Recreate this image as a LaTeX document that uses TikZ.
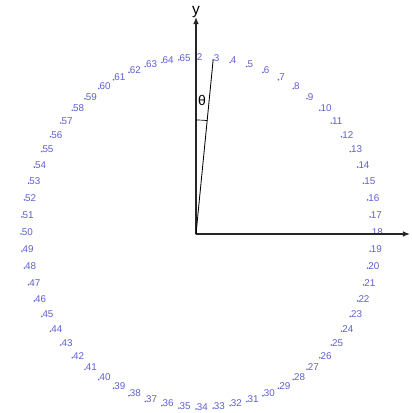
\documentclass[tikz,border=0pt]{standalone}
\usepackage{fontspec}
\setmainfont{Liberation Sans}
\usepackage{xcolor}
\usetikzlibrary{arrows.meta}

\definecolor{ptblue}{RGB}{95,95,210}

\begin{document}
\begin{tikzpicture}[x=0.025cm, y=0.025cm,
    ptdot/.style={circle, fill=ptblue, inner sep=0pt, minimum size=1.3pt},
    ptlabel/.style={font=\fontsize{7}{7}\selectfont, text=ptblue, inner sep=0.4pt, anchor=west, yshift=1.5pt},
    axis/.style={draw=black!85, line width=0.9pt, -{Latex[length=5pt, width=4pt]}}]
  \useasboundingbox (-196,-179) rectangle (216,234);

  % points on the circle
  \node[ptdot] (p1) at (0,0) {};
  \foreach \i in {2,...,65} {
    \pgfmathsetmacro{\ang}{90-(\i-2)*5.625}
    \node[ptdot] (p\i) at (\ang:175) {};
    \node[ptlabel] (l\i) at (p\i.center) {\i};
  }

  % axes
  \coordinate (ytip) at (0,217);
  \coordinate (xtip) at (214,0);
  \draw[axis] (p1.center) -- (ytip);
  \draw[axis] (p1.center) -- (xtip);
  \node[font=\fontsize{11}{11}\selectfont] (ylab) at (0,222) {y};

  % angle
  \draw[line width=0.6pt] (p1.center) -- (p3.center);
  \draw[line width=0.5pt] (90:114) arc (90:84.375:114);
  \node[font=\fontsize{10}{10}\selectfont] (theta) at (6,134) {θ};
\end{tikzpicture}
\end{document}
